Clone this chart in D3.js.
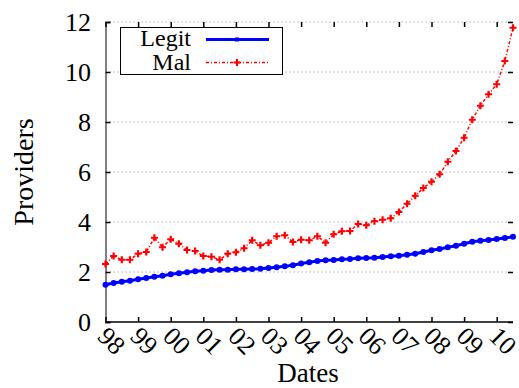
<!DOCTYPE html>
<html>
<head>
<meta charset="utf-8">
<script src="https://cdn.jsdelivr.net/npm/d3@7"></script>
<style>
  body { margin: 0; background: #fff; }
  svg { display: block; }
  text { font-family: "Liberation Serif", Tinos, "DejaVu Serif", serif; }
</style>
</head>
<body>
<div id="chart"></div>
<script>
// quarterly samples, decimal years
const dates = [
  1998.00, 1998.25, 1998.50, 1998.75, 1999.00, 1999.25, 1999.50, 1999.75,
  2000.00, 2000.25, 2000.50, 2000.75, 2001.00, 2001.25, 2001.50, 2001.75,
  2002.00, 2002.25, 2002.50, 2002.75, 2003.00, 2003.25, 2003.50, 2003.75,
  2004.00, 2004.25, 2004.50, 2004.75, 2005.00, 2005.25, 2005.50, 2005.75,
  2006.00, 2006.25, 2006.50, 2006.75, 2007.00, 2007.25, 2007.50, 2007.75,
  2008.00, 2008.25, 2008.50, 2008.75, 2009.00, 2009.25, 2009.50, 2009.75,
  2010.00, 2010.25, 2010.50
];

const legit = [
  1.49, 1.56, 1.61, 1.65, 1.71, 1.76, 1.81, 1.85,
  1.91, 1.95, 1.99, 2.03, 2.05, 2.08, 2.09, 2.09,
  2.11, 2.11, 2.12, 2.13, 2.16, 2.19, 2.23, 2.27,
  2.34, 2.39, 2.44, 2.47, 2.48, 2.51, 2.52, 2.55,
  2.56, 2.57, 2.60, 2.63, 2.65, 2.69, 2.73, 2.80,
  2.87, 2.92, 2.99, 3.05, 3.13, 3.21, 3.25, 3.28,
  3.32, 3.36, 3.41
];

const mal = [
  2.32, 2.64, 2.49, 2.49, 2.73, 2.80, 3.37, 2.99,
  3.31, 3.13, 2.88, 2.84, 2.64, 2.61, 2.49, 2.73,
  2.79, 2.95, 3.27, 3.07, 3.17, 3.43, 3.47, 3.20,
  3.29, 3.27, 3.43, 3.17, 3.51, 3.63, 3.64, 3.92,
  3.87, 4.03, 4.09, 4.15, 4.40, 4.73, 5.05, 5.36,
  5.61, 5.91, 6.41, 6.84, 7.37, 8.09, 8.65, 9.11,
  9.51, 10.44, 11.77
];

const xTickValues = [1998, 1999, 2000, 2001, 2002, 2003, 2004, 2005, 2006, 2007, 2008, 2009, 2010];
const xTickLabels = ['98', '99', '00', '01', '02', '03', '04', '05', '06', '07', '08', '09', '10'];
const yTickValues = [0, 2, 4, 6, 8, 10, 12];

const width = 519;
const height = 388;
const plot = { left: 105.5, right: 513, top: 22, bottom: 322 };
const serif = '"Liberation Serif", Tinos, "Times New Roman", serif';

const x = d3.scaleLinear().domain([1998, 2010.5]).range([plot.left, plot.right]);
const y = d3.scaleLinear().domain([0, 12]).range([plot.bottom, plot.top]);

const svg = d3.select('#chart')
  .append('svg')
  .attr('width', width)
  .attr('height', height)
  .attr('font-family', serif);

// horizontal dotted grid
svg.append('g')
  .selectAll('line')
  .data(yTickValues.filter(d => d > 0))
  .enter().append('line')
  .attr('x1', plot.left)
  .attr('x2', plot.right)
  .attr('y1', d => y(d))
  .attr('y2', d => y(d))
  .attr('stroke', '#b0b0b0')
  .attr('stroke-width', 1)
  .attr('stroke-dasharray', '1.5,2.5');

// left axis (ticks point inward)
const yAxis = svg.append('g')
  .attr('transform', `translate(${plot.left},0)`)
  .call(d3.axisRight(y).tickValues(yTickValues).tickSize(5).tickFormat(''));
yAxis.select('.domain').attr('stroke', '#808080').attr('stroke-width', 2);
yAxis.selectAll('.tick line').attr('stroke', '#000').attr('stroke-width', 1.5);

// right mirror ticks
const yAxisR = svg.append('g')
  .attr('transform', `translate(${plot.right},0)`)
  .call(d3.axisLeft(y).tickValues(yTickValues).tickSize(5).tickFormat(''));
yAxisR.select('.domain').remove();
yAxisR.selectAll('.tick line').attr('stroke', '#000').attr('stroke-width', 1.5);

// y tick labels
svg.append('g')
  .selectAll('text')
  .data(yTickValues)
  .enter().append('text')
  .attr('x', 91)
  .attr('y', d => y(d))
  .attr('dy', '0.34em')
  .attr('text-anchor', 'end')
  .style('font-family', serif)
  .style('font-size', '26px')
  .text(d => d);

// top mirror ticks
const xAxisT = svg.append('g')
  .attr('transform', `translate(0,${plot.top})`)
  .call(d3.axisBottom(x).tickValues(xTickValues).tickSize(5).tickFormat(''));
xAxisT.select('.domain').remove();
xAxisT.selectAll('.tick line').attr('stroke', '#000').attr('stroke-width', 1.5);

// bottom axis
const xAxis = svg.append('g')
  .attr('transform', `translate(0,${plot.bottom})`)
  .call(d3.axisTop(x).tickValues(xTickValues).tickSize(5).tickFormat(''));
xAxis.select('.domain').attr('stroke', '#000').attr('stroke-width', 1.5)
  .attr('d', `M${plot.left},0H${plot.right}`);
xAxis.selectAll('.tick line').attr('stroke', '#000').attr('stroke-width', 1.5);

// rotated x labels
svg.append('g')
  .selectAll('text')
  .data(xTickValues)
  .enter().append('text')
  .attr('transform', d => `translate(${x(d)},347) rotate(45)`)
  .attr('text-anchor', 'middle')
  .style('font-family', serif)
  .style('font-size', '26px')
  .text((d, i) => xTickLabels[i]);

// axis titles
svg.append('text')
  .attr('transform', 'translate(33,172) rotate(-90)')
  .attr('text-anchor', 'middle')
  .style('font-family', serif)
  .style('font-size', '28px')
  .text('Providers');

svg.append('text')
  .attr('x', 308)
  .attr('y', 382)
  .attr('text-anchor', 'middle')
  .style('font-family', serif)
  .style('font-size', '27px')
  .text('Dates');

const points = (vals) => vals.map((v, i) => [dates[i], v]);
const line = d3.line().x(d => x(d[0])).y(d => y(d[1]));
const plusPath = 'M-3.5,0H3.5M0,-3.5V3.5';

// Mal series
svg.append('path')
  .datum(points(mal))
  .attr('d', line)
  .attr('fill', 'none')
  .attr('stroke', '#ff0000')
  .attr('stroke-width', 1.5)
  .attr('stroke-dasharray', '3,2,1,2');

svg.append('g')
  .selectAll('path')
  .data(points(mal))
  .enter().append('path')
  .attr('d', plusPath)
  .attr('transform', d => `translate(${x(d[0])},${y(d[1])})`)
  .attr('stroke', '#ff0000')
  .attr('stroke-width', 2.2);

// Legit series
svg.append('path')
  .datum(points(legit))
  .attr('d', line)
  .attr('fill', 'none')
  .attr('stroke', '#0000ff')
  .attr('stroke-width', 3);

svg.append('g')
  .selectAll('circle')
  .data(points(legit))
  .enter().append('circle')
  .attr('cx', d => x(d[0]))
  .attr('cy', d => y(d[1]))
  .attr('r', 3)
  .attr('fill', '#0000ff');

// legend
const legend = svg.append('g');
legend.append('rect')
  .attr('x', 120.5)
  .attr('y', 27.5)
  .attr('width', 162)
  .attr('height', 47)
  .attr('fill', '#fff')
  .attr('stroke', '#000')
  .attr('stroke-width', 1);

legend.append('text')
  .attr('x', 191)
  .attr('y', 46)
  .attr('text-anchor', 'end')
  .style('font-family', serif)
  .style('font-size', '24px')
  .text('Legit');
legend.append('text')
  .attr('x', 191)
  .attr('y', 70)
  .attr('text-anchor', 'end')
  .style('font-family', serif)
  .style('font-size', '24px')
  .text('Mal');

legend.append('line')
  .attr('x1', 206).attr('x2', 269)
  .attr('y1', 39.5).attr('y2', 39.5)
  .attr('stroke', '#0000ff')
  .attr('stroke-width', 3);
legend.append('rect')
  .attr('x', 235).attr('y', 37.5)
  .attr('width', 4).attr('height', 4)
  .attr('fill', '#0000ff');

legend.append('line')
  .attr('x1', 206).attr('x2', 269)
  .attr('y1', 62.5).attr('y2', 62.5)
  .attr('stroke', '#ff0000')
  .attr('stroke-width', 1.5)
  .attr('stroke-dasharray', '3,2,1,2');
legend.append('path')
  .attr('d', plusPath)
  .attr('transform', 'translate(237,62.5)')
  .attr('stroke', '#ff0000')
  .attr('stroke-width', 2.2);
</script>
</body>
</html>
